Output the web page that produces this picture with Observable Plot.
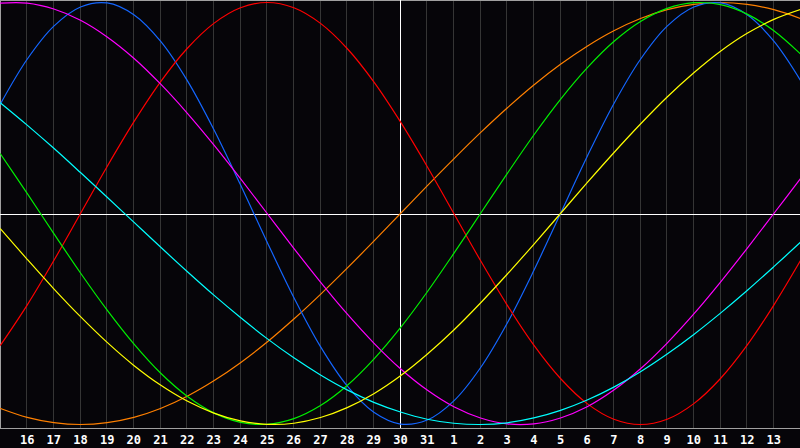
<!DOCTYPE html>
<html>
<head>
<meta charset="utf-8">
<script src="https://cdn.jsdelivr.net/npm/d3@7"></script>
<script src="https://cdn.jsdelivr.net/npm/@observablehq/plot@0.6"></script>
<style>
  html, body { margin: 0; padding: 0; background: #060509; }
  #chart { width: 800px; height: 448px; overflow: hidden; }
</style>
</head>
<body>
<div id="chart"></div>
<script>
// Day labels along the x axis (index 0 .. 30)
const dayLabels = ["15","16","17","18","19","20","21","22","23","24","25","26","27","28","29","30","31",
                   "1","2","3","4","5","6","7","8","9","10","11","12","13","14"];
const labelIdx = [1,2,3,4,5,6,7,8,9,10,11,12,13,14,15,16,17,18,19,20,21,22,23,24,25,26,27,28,29];
const todayIdx = 15;

// Values at each day (-1 .. 1)
const physical = [0.520,0.731,0.888,0.979,0.998,0.942,0.817,0.631,0.398,0.136,-0.136,-0.398,-0.631,-0.817,-0.942,-0.998,
              -0.979,-0.888,-0.731,-0.520,-0.270,0.000,0.270,0.520,0.731,0.888,0.979,0.998,0.942,0.817,0.631];
const emotional = [-0.624,-0.434,-0.223,0.000,0.223,0.434,0.624,0.782,0.901,0.975,1.000,0.975,0.901,0.782,0.624,0.434,
             0.223,0.000,-0.223,-0.434,-0.624,-0.782,-0.901,-0.975,-1.000,-0.975,-0.901,-0.782,-0.624,-0.434,-0.223];
const intellectual = [0.282,0.095,-0.095,-0.282,-0.458,-0.618,-0.756,-0.866,-0.945,-0.990,-0.999,-0.972,-0.910,-0.815,-0.690,-0.541,
               -0.372,-0.189,0.000,0.189,0.372,0.541,0.690,0.815,0.910,0.972,0.999,0.990,0.945,0.866,0.756];
const intuitive = [0.997,0.997,0.969,0.916,0.837,0.736,0.614,0.476,0.325,0.165,0.000,-0.165,-0.325,-0.476,-0.614,-0.736,
                 -0.837,-0.916,-0.969,-0.997,-0.997,-0.969,-0.916,-0.837,-0.736,-0.614,-0.476,-0.325,-0.165,0.000,0.165];
const aesthetic = [-0.073,-0.217,-0.357,-0.489,-0.611,-0.720,-0.813,-0.889,-0.946,-0.983,-0.999,-0.994,-0.967,-0.920,-0.854,-0.769,
                -0.667,-0.552,-0.424,-0.288,-0.146,0.000,0.146,0.288,0.424,0.552,0.667,0.769,0.854,0.920,0.967];
const awareness = [-0.924,-0.966,-0.991,-1.000,-0.991,-0.966,-0.924,-0.866,-0.793,-0.707,-0.609,-0.500,-0.383,-0.259,-0.131,0.000,
                0.131,0.259,0.383,0.500,0.609,0.707,0.793,0.866,0.924,0.966,0.991,1.000,0.991,0.966,0.924];
const spiritual = [0.524,0.419,0.309,0.194,0.077,-0.041,-0.159,-0.275,-0.387,-0.493,-0.593,-0.684,-0.765,-0.836,-0.895,-0.941,
              -0.975,-0.994,-1.000,-0.992,-0.969,-0.933,-0.884,-0.823,-0.750,-0.666,-0.573,-0.472,-0.365,-0.252,-0.136];

const seriesNames = ["awareness","physical","emotional","intellectual","intuitive","spiritual","aesthetic"];
const seriesValues = [awareness, physical, emotional, intellectual, intuitive, spiritual, aesthetic];
const seriesColors = ["#ff8000","#1466ff","#ff0000","#00f000","#ff00ff","#00ffff","#ffff00"];

const rows = [];
seriesValues.forEach((vals, s) => vals.forEach((v, i) => rows.push({s: seriesNames[s], i, v})));

const chart = Plot.plot({
  width: 800,
  height: 448,
  marginLeft: 0,
  marginRight: 0,
  marginTop: 2,
  marginBottom: 24,
  x: {domain: [0, 30], axis: null},
  y: {domain: [-1, 1], axis: null},
  color: {type: "ordinal", domain: seriesNames, range: seriesColors},
  style: {background: "#060509", color: "#ffffff"},
  marks: [
    Plot.ruleX(labelIdx, {stroke: "#353535", insetTop: -2, insetBottom: -4, dx: -0.5, shapeRendering: "crispEdges"}),
    Plot.ruleY([1], {stroke: "#a0a0a0", dy: -2, shapeRendering: "crispEdges"}),
    Plot.ruleX([0], {stroke: "#a0a0a0", insetTop: -2, insetBottom: -4, shapeRendering: "crispEdges"}),
    Plot.ruleY([-1], {stroke: "#a0a0a0", dy: 4, shapeRendering: "crispEdges"}),
    Plot.ruleY([0], {stroke: "#ffffff", dy: 1, shapeRendering: "crispEdges"}),
    Plot.ruleX([todayIdx], {stroke: "#ffffff", insetTop: -2, insetBottom: -4, shapeRendering: "crispEdges"}),
    Plot.line(rows, {x: "i", y: "v", z: "s", stroke: "s", strokeWidth: 1.2, curve: "catmull-rom"}),
    Plot.axisX(labelIdx, {
      tickFormat: (d) => dayLabels[d],
      label: null,
      tickSize: 0,
      tickPadding: 11,
      fontSize: 12,
      fontWeight: "bold",
      fontFamily: "DejaVu Sans Mono",
      fill: "#ffffff"
    })
  ]
});

document.getElementById("chart").appendChild(chart);
</script>
</body>
</html>
